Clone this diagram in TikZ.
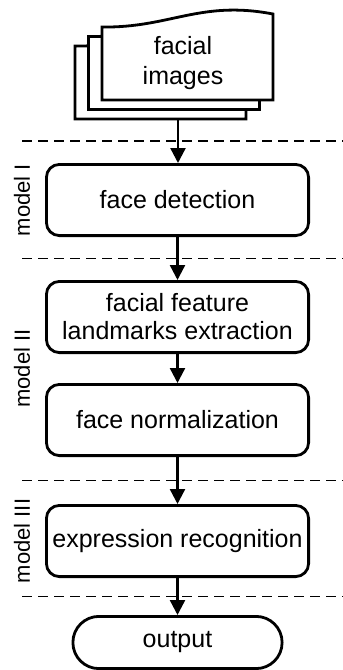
\documentclass[tikz,border=0pt]{standalone}
\usepackage{fontspec}
\setmainfont{Liberation Sans}
\usetikzlibrary{arrows.meta,positioning,calc}

\begin{document}
\begin{tikzpicture}[x=0.5pt,y=-0.5pt,
  stage/.style={draw,line width=1.4pt,rounded corners=6.5pt,align=center,minimum width=131.1pt,minimum height=35.6pt,inner sep=2pt,font=\fontsize{12.5}{14}\selectfont},
  page/.style={draw,fill=white,line width=1.4pt},
  arr/.style={-{Triangle[length=7.5pt,width=7.5pt]},line width=1.2pt},
  sep/.style={dash pattern=on 5pt off 3pt,line width=0.9pt},
  tag/.style={rotate=90,font=\fontsize{11}{13}\selectfont},
]
\useasboundingbox (0,0) rectangle (343,670);
\foreach \dx/\dy in {-27/19,-13.5/9.5,0/0}
  \draw[page,shift={(\dx,\dy)}] (102,100) -- (102,27) .. controls (170,28) and (200,0) .. (273,14) -- (273,100) -- cycle;
\node[align=center,font=\fontsize{12.5}{15}\selectfont] (doc) at (183,63) {facial\\images};
\coordinate (stackout) at (178,119);

\node[stage] (detect) at (177.5,200) {face detection};
\node[stage,below=21.5pt of detect] (landmark) {facial feature\\landmarks extraction};
\node[stage,below=14.5pt of landmark] (normal) {face normalization};
\node[stage,below=23.5pt of normal] (recog) {expression recognition};
\node[stage,below=18.5pt of recog,minimum width=104.6pt,minimum height=26.1pt,rounded corners=13pt] (out) {output};

\draw[arr] (stackout) -- (stackout |- detect.north);
\draw[arr] (detect) -- (landmark);
\draw[arr] (landmark) -- (normal);
\draw[arr] (normal) -- (recog);
\draw[arr] (recog) -- (out);

\coordinate (L) at (22,0);
\coordinate (R) at (343,0);
\foreach \a/\b in {stackout/detect.north,detect.south/landmark.north,normal.south/recog.north,recog.south/out.north}{
  \coordinate (m) at ($(\a)!.5!(\b)$);
  \draw[sep] (L |- m) -- (R |- m);
}
\node[tag] (tag1) at (L |- detect) {model I};
\node[tag] (tag2) at ($(L |- landmark)!.5!(L |- normal)$) {model II};
\node[tag] (tag3) at (L |- recog) {model III};
\end{tikzpicture}
\end{document}
